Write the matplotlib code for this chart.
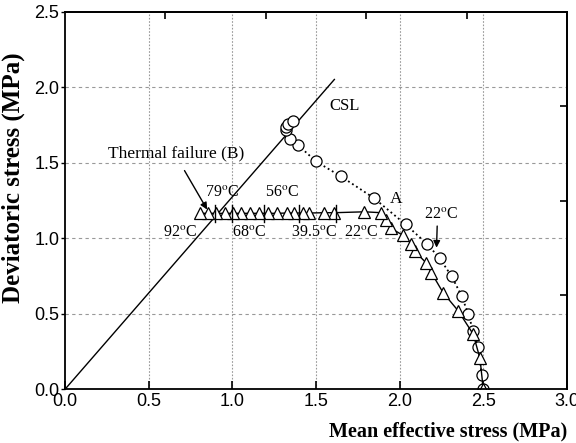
import matplotlib
matplotlib.use('Agg')
import matplotlib.pyplot as plt

# circles (dotted path), from p'=2.5 up to failure on the CSL
circ_p = [2.50, 2.49, 2.47, 2.44, 2.41, 2.37, 2.31, 2.24, 2.165, 2.036,
          1.845, 1.65, 1.50, 1.393, 1.343, 1.32, 1.32, 1.333, 1.36]
circ_q = [0.00, 0.095, 0.28, 0.385, 0.50, 0.62, 0.75, 0.867, 0.962, 1.092,
          1.268, 1.41, 1.51, 1.618, 1.656, 1.717, 1.74, 1.757, 1.777]

# triangles (solid path): shearing to A then heating at constant q
tri_p = [2.50, 2.48, 2.44, 2.35, 2.26, 2.19, 2.16, 2.09, 2.07, 2.02, 1.95,
         1.92, 1.89, 1.79, 1.61, 1.55, 1.46, 1.425, 1.37, 1.325, 1.27, 1.215,
         1.16, 1.105, 1.05, 1.005, 0.955, 0.905, 0.855, 0.806]
tri_q = [0.00, 0.205, 0.365, 0.52, 0.64, 0.772, 0.836, 0.915, 0.965, 1.02, 1.066,
         1.12, 1.17, 1.176, 1.17, 1.17, 1.168, 1.168, 1.168, 1.168, 1.166, 1.166,
         1.166, 1.166, 1.166, 1.166, 1.166, 1.166, 1.166, 1.166]

# critical state line q = M p'
csl_p = [0.0, 1.61]
csl_M = 1.275

# temperature marks on the heating path
mark_p = [0.896, 1.0, 1.19, 1.40, 1.62]
temp_labels = [("79", 0.94, 1.31), ("56", 1.30, 1.31), ("92", 0.69, 1.044),
               ("68", 1.10, 1.044), ("39.5", 1.49, 1.044), ("22", 1.77, 1.044)]

plt.rcParams['mathtext.fontset'] = 'stix'
serif = 'Liberation Serif'
sans = 'Liberation Sans'

fig = plt.figure(figsize=(5.76, 4.43), dpi=100)
ax = fig.add_axes([0.1128, 0.1212, 0.8715, 0.8518])

ax.plot(csl_p, [p * csl_M for p in csl_p], color='black', linewidth=1.0)
ax.plot(circ_p, circ_q, linestyle=':', color='black', linewidth=1.3,
        marker='o', markersize=8, markerfacecolor='white',
        markeredgecolor='black', markeredgewidth=0.9)
ax.plot(tri_p, tri_q, linestyle='-', color='black', linewidth=1.0,
        marker='^', markersize=8.5, markerfacecolor='white',
        markeredgecolor='black', markeredgewidth=0.9)

for p in mark_p:
    ax.plot([p, p], [1.11, 1.22], color='black', linewidth=1.0)

for t, x, y in temp_labels:
    ax.text(x, y, t + r'$^{\rm o}$C', family=serif, fontsize=11.5,
            ha='center', va='center')
ax.text(2.25, 1.16, r'22$^{\rm o}$C', family=serif, fontsize=11.5,
        ha='center', va='center')
ax.annotate('', xy=(2.22, 0.92), xytext=(2.225, 1.10),
            arrowprops=dict(arrowstyle='-|>', color='black', lw=1.0,
                            mutation_scale=10))
ax.text(1.98, 1.26, 'A', family=serif, fontsize=12.5, ha='center', va='center')
ax.text(1.67, 1.88, 'CSL', family=serif, fontsize=12, ha='center', va='center')
ax.text(0.257, 1.565, 'Thermal failure (B)', family=serif, fontsize=12.5,
        ha='left', va='center')
ax.annotate('', xy=(0.858, 1.175), xytext=(0.706, 1.465),
            arrowprops=dict(arrowstyle='-|>', color='black', lw=1.0,
                            mutation_scale=10))

ax.set_xlim(0, 3.0)
ax.set_ylim(0, 2.5)
ax.set_xticks([0.0, 0.5, 1.0, 1.5, 2.0, 2.5, 3.0])
ax.set_yticks([0.0, 0.5, 1.0, 1.5, 2.0, 2.5])
ax.set_xticklabels(['0.0', '0.5', '1.0', '1.5', '2.0', '2.5', '3.0'])
ax.set_yticklabels(['0.0', '0.5', '1.0', '1.5', '2.0', '2.5'])

for g in [0.5, 1.0, 1.5, 2.0]:
    ax.axhline(g, color='#999999', linestyle=(0, (3, 3)), linewidth=0.8, zorder=0)
for g in [0.5, 1.0, 1.5, 2.0, 2.5]:
    ax.axvline(g, color='#999999', linestyle=(0, (1.5, 1.5)), linewidth=0.8, zorder=0)

ax.tick_params(axis='x', direction='in', length=6, width=1.2, labelsize=13, pad=3)
ax.tick_params(axis='y', direction='out', length=3, width=1.0, labelsize=13, pad=1)
for lab in ax.get_xticklabels() + ax.get_yticklabels():
    lab.set_family(sans)

top = ax.secondary_xaxis('top')
top.set_xticks([0.6, 1.2, 1.8, 2.4])
top.tick_params(direction='in', length=5, width=1.2, labeltop=False)
right = ax.secondary_yaxis('right')
right.set_yticks([0.625, 1.25, 1.875])
right.tick_params(direction='in', length=5, width=1.2, labelright=False)
for s in list(ax.spines.values()) + [top.spines['top'], right.spines['right']]:
    s.set_linewidth(1.3)

ax.set_xlabel('Mean effective stress (MPa)', family=serif, fontweight='bold',
              fontsize=14.5, loc='right')
ax.xaxis.set_label_coords(1.0, -0.085)
ax.set_ylabel('Deviatoric stress (MPa)', family=serif, fontweight='bold',
              fontsize=18)
ax.yaxis.set_label_coords(-0.08, 0.56)

fig.savefig('out.png', dpi=100)
